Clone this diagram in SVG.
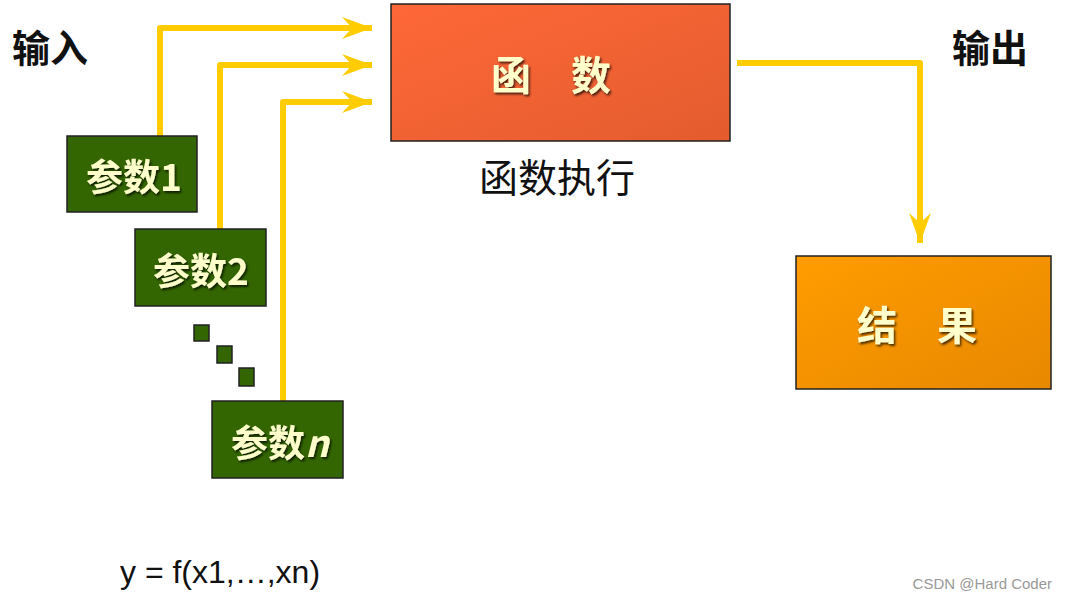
<svg xmlns="http://www.w3.org/2000/svg" width="1068" height="599" viewBox="0 0 1068 599">
<defs>
<linearGradient id="gRed" x1="0" y1="0" x2="1" y2="1"><stop offset="0" stop-color="#FF6838"/><stop offset="1" stop-color="#E35C2E"/></linearGradient>
<linearGradient id="gOrange" x1="0" y1="0" x2="1" y2="1"><stop offset="0" stop-color="#FF9C00"/><stop offset="1" stop-color="#E88800"/></linearGradient>
<marker id="arr" markerUnits="userSpaceOnUse" markerWidth="36" markerHeight="26" refX="32" refY="13" orient="auto" viewBox="0 0 36 26">
<path d="M32,13 L2,2 L12,13 L2,24 Z" fill="#FFCC00"/>
</marker>
<filter id="sh" x="-10%" y="-10%" width="130%" height="130%"><feDropShadow dx="1.5" dy="2" stdDeviation="0.8" flood-color="#000" flood-opacity="0.7"/></filter>
</defs>
<style>
.box{stroke:#222;stroke-width:1.5}
.green{fill:#336600}
.lbl{font-family:"Noto Sans CJK SC","Liberation Sans",sans-serif;font-weight:bold;fill:#FFFFCC;filter:url(#sh)}
.blk{font-family:"Noto Sans CJK SC",sans-serif;fill:#111}
.conn{fill:none;stroke:#FFCC00;stroke-width:6;stroke-linejoin:round}
</style>
<g id="connectors">
<path class="conn" d="M160,136 V28 H372" marker-end="url(#arr)"/>
<path class="conn" d="M220,229 V65 H372" marker-end="url(#arr)"/>
<path class="conn" d="M283,401 V102 H372" marker-end="url(#arr)"/>
<path class="conn" d="M737,63 H920 V243" marker-end="url(#arr)"/>
</g>
<g id="label-input"><text class="blk" x="12" y="62" font-size="38" font-weight="bold">输入</text></g>
<g id="label-output"><text class="blk" x="952" y="62" font-size="38" font-weight="bold">输出</text></g>
<g id="node-func">
<rect class="box" x="391" y="4" width="339" height="137" fill="url(#gRed)"/>
<text class="lbl" x="551" y="90" font-size="40" text-anchor="middle">函　数</text>
</g>
<g id="label-exec"><text class="blk" x="557" y="192" font-size="39" text-anchor="middle">函数执行</text></g>
<g id="node-p1">
<rect class="box green" x="67" y="136" width="130" height="76"/>
<text class="lbl" x="86" y="191" font-size="37">参数1</text>
</g>
<g id="node-p2">
<rect class="box green" x="135" y="229" width="131" height="77"/>
<text class="lbl" x="153" y="285" font-size="37">参数2</text>
</g>
<g id="dots">
<rect class="box green" x="194" y="325" width="15" height="16"/>
<rect class="box green" x="217" y="346" width="15" height="17"/>
<rect class="box green" x="239" y="368" width="15" height="18"/>
</g>
<g id="node-pn">
<rect class="box green" x="212" y="401" width="131" height="77"/>
<text class="lbl" x="231" y="457" font-size="37">参数<tspan font-style="italic">n</tspan></text>
</g>
<g id="node-result">
<rect class="box" x="796" y="256" width="255" height="133" fill="url(#gOrange)"/>
<text class="lbl" x="917" y="340" font-size="40" text-anchor="middle">结　果</text>
</g>
<g id="formula"><text x="120" y="583" font-family="Liberation Sans,sans-serif" font-size="32" fill="#111">y = f(x1,…,xn)</text></g>
<g id="watermark"><text x="1052" y="589" font-family="Liberation Sans,sans-serif" font-size="15" fill="#999" text-anchor="end">CSDN @Hard Coder</text></g>
</svg>
